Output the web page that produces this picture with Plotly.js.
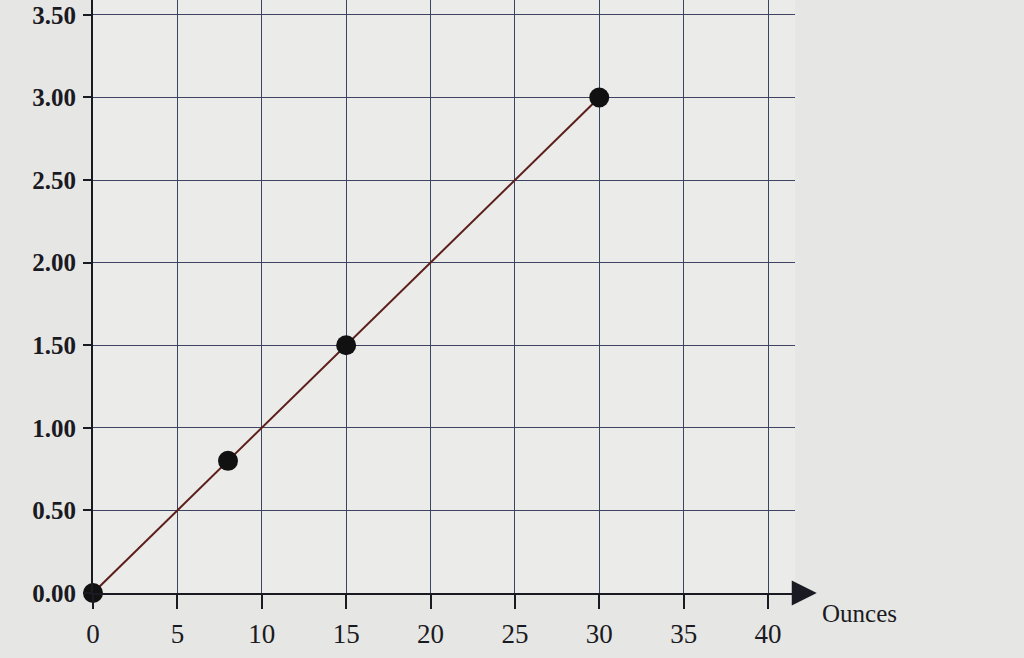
<!DOCTYPE html>
<html>
<head>
<meta charset="utf-8">
<script src="https://cdn.plot.ly/plotly-3.0.1.min.js"></script>
<style>
  html, body { margin: 0; padding: 0; background: #e6e6e4; }
  #chart { width: 1024px; height: 658px; }
</style>
</head>
<body>
<div id="chart"></div>
<script>
var ounces = [0, 8, 15, 30];
var cost = [0, 0.80, 1.50, 3.00];
var xTicks = [0, 5, 10, 15, 20, 25, 30, 35, 40];
var yTicks = [0, 0.5, 1, 1.5, 2, 2.5, 3, 3.5];

var line = {
  x: ounces,
  y: cost,
  type: 'scatter',
  mode: 'lines+markers',
  line: { color: '#5c1e1a', width: 2 },
  marker: { color: '#111111', size: 20 },
  cliponaxis: false,
  hoverinfo: 'skip'
};

var serifFamily = 'Liberation Serif, DejaVu Serif, serif';
var ink = '#1a1a22';

var layout = {
  width: 1024,
  height: 658,
  margin: { l: 93, r: 229, t: 0, b: 65 },
  paper_bgcolor: '#e6e6e4',
  plot_bgcolor: '#ebebea',
  showlegend: false,
  xaxis: {
    range: [0, 41.6],
    tickvals: xTicks,
    ticktext: xTicks.map(String),
    ticks: 'outside',
    ticklen: 14,
    tickwidth: 2,
    tickcolor: ink,
    ticklabelstandoff: 2,
    showgrid: true,
    gridcolor: '#3c4462',
    gridwidth: 1,
    zeroline: false,
    showline: true,
    linecolor: ink,
    linewidth: 2,
    tickfont: { family: serifFamily, size: 27, color: ink }
  },
  yaxis: {
    range: [0, 3.59],
    tickvals: yTicks,
    ticktext: yTicks.map(function (v) { return v.toFixed(2); }),
    ticks: 'outside',
    ticklen: 8,
    tickwidth: 2,
    tickcolor: ink,
    ticklabelstandoff: 2,
    showgrid: true,
    gridcolor: '#3c4462',
    gridwidth: 1,
    zeroline: false,
    showline: true,
    linecolor: ink,
    linewidth: 2,
    tickfont: { family: serifFamily, size: 25, color: ink, weight: 'bold' }
  },
  annotations: [
    {
      x: 1.031, y: 0, xref: 'paper', yref: 'paper',
      ax: 1.0, ay: 0, axref: 'paper', ayref: 'paper',
      showarrow: true, arrowhead: 2, arrowsize: 2, arrowwidth: 2.5,
      arrowcolor: ink, text: ''
    },
    {
      x: 1.036, y: 0, xref: 'paper', yref: 'paper',
      xanchor: 'left', yanchor: 'middle', yshift: -20,
      text: 'Ounces', showarrow: false,
      font: { family: serifFamily, size: 25, color: ink }
    }
  ]
};

Plotly.newPlot('chart', [line], layout, { displayModeBar: false, staticPlot: true });
</script>
</body>
</html>
